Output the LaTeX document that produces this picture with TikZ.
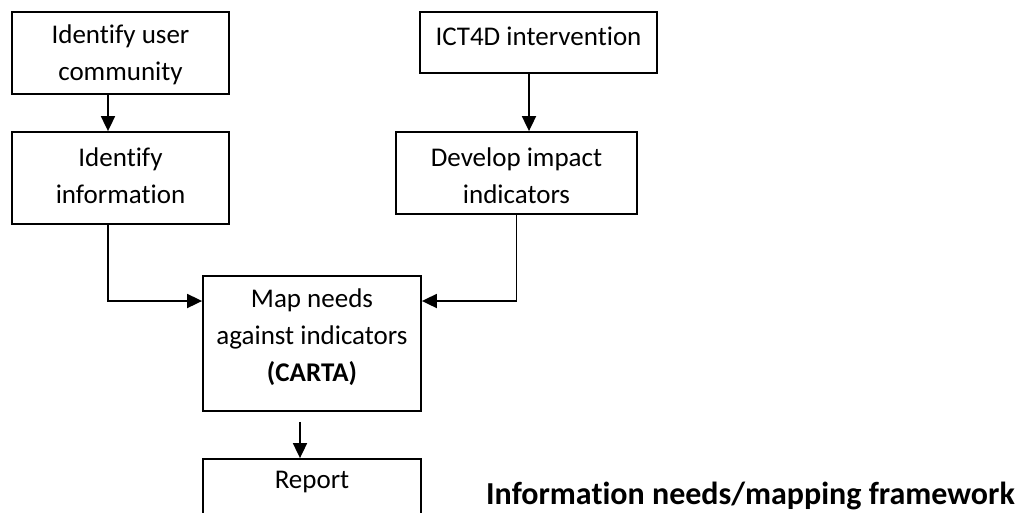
\documentclass[tikz,border=0pt]{standalone}
\usepackage{fontspec}
\setmainfont{Carlito}[Ligatures=NoCommon]
\usetikzlibrary{arrows.meta}
\begin{document}
\begin{tikzpicture}[x=1pt,y=-1pt,
  box/.style={draw,line width=1.8pt,rectangle,inner sep=0pt},
  txt/.style={font=\fontsize{27}{37}\selectfont,align=center,inner sep=0pt},
  arr/.style={line width=1.8pt,-{Triangle[width=14pt,length=15pt]}}]
\clip (0,0) rectangle (1023,512);
\fill[white] (0,0) rectangle (1023,512);
% boxes
\node[box,minimum width=217pt,minimum height=82pt] (b1) at (120.5,53) {};
\node[box,minimum width=217pt,minimum height=92pt] (b2) at (120.5,178) {};
\node[box,minimum width=237pt,minimum height=61pt] (b3) at (538.5,42.5) {};
\node[box,minimum width=241pt,minimum height=82pt] (b4) at (516.5,173) {};
\node[box,minimum width=218pt,minimum height=135pt] (map) at (312,343.5) {};
\node[box,minimum width=218pt,minimum height=80pt] (rep) at (312,499) {};
% texts
\node[txt] (t1) at (120.5,54.5) {Identify user\\community};
\node[txt] (t2) at (120.5,175.5) {Identify\\information};
\node[txt] (t3) at (538.5,36) {ICT4D intervention};
\node[txt] (t4) at (516.5,175.5) {Develop impact\\indicators};
\node[txt] (t5) at (312,337) {Map needs\\against indicators\\\textbf{(CARTA)}};
\node[txt] (t6) at (312,482) {Report};
\node[txt,font=\fontsize{32}{37}\selectfont\bfseries] (title) at (750.5,496) {Information needs/mapping framework};
% connectors
\coordinate (xa) at (108,0);
\coordinate (xb) at (529,0);
\coordinate (xr) at (300,0);
\coordinate (jl) at (108,301);
\draw[arr] (b1.south -| xa) -- (b2.north -| xa);
\draw[arr] (b3.south -| xb) -- (b4.north -| xb);
\draw[arr] (b2.south -| jl) -- (jl) -- (map.west |- jl);
\draw[arr] (b4.south) |- (map.east |- jl);
\draw[arr] ([yshift=-10pt]map.south -| xr) -- (rep.north -| xr);
\end{tikzpicture}
\end{document}
